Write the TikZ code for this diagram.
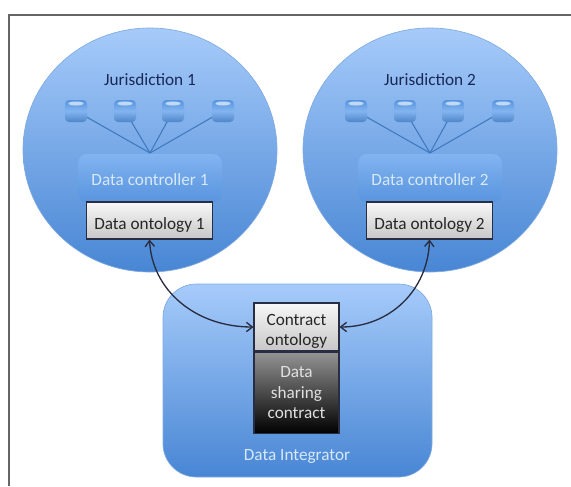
\documentclass[tikz,border=0pt]{standalone}
\usepackage{fontspec}
\setmainfont{Carlito}
\usetikzlibrary{arrows.meta,positioning,shapes.geometric}
\definecolor{bluetop}{RGB}{166,203,250}
\definecolor{bluebot}{RGB}{72,134,212}
\definecolor{disktop}{RGB}{190,218,246}
\definecolor{ctrltop}{RGB}{130,180,240}
\definecolor{ctrlbot}{RGB}{88,148,222}
\definecolor{ctrltext}{RGB}{215,232,250}
\definecolor{navytext}{RGB}{25,40,85}
\definecolor{boxline}{RGB}{40,45,65}
\newcommand{\labelfont}{\fontsize{12.9}{15.5}\selectfont}
\newcommand{\lowstrut}[1]{\rule{0pt}{#1}}
\tikzset{every picture/.style={line width=0.75pt},
  region/.style={draw=bluebot!70!white,line width=0.5pt,top color=bluetop,bottom color=bluebot},
  ctrlbox/.style={draw=none,rounded corners=7pt,minimum width=108pt,minimum height=36pt,top color=ctrltop,bottom color=ctrlbot,text=ctrltext,font=\labelfont},
  ontobox/.style={draw=boxline,line width=0.8pt,top color=white!97!black,bottom color=black!22,text=black!85,minimum height=27.75pt,inner sep=0pt,font=\labelfont},
  diskbox/.style={draw=none,rounded corners=3pt,minimum width=16.5pt,minimum height=16.5pt,top color=ctrlbot,bottom color=ctrlbot!90!black,middle color=ctrltop},
  spoke/.style={draw=bluebot!90!black,line width=0.8pt},
  link/.style={draw=boxline,line width=1pt,{Straight Barb[length=4.5pt,width=7pt]}-{Straight Barb[length=4.5pt,width=7pt]}}}

\begin{document}
\begin{tikzpicture}[x=0.75pt,y=0.75pt,yscale=-1,xscale=1]
\useasboundingbox (0,0) rectangle (571,486);

%Frame
\draw [draw=black!60,line width=1.5pt] (9,486) -- (9,14.5) -- (571,14.5);

%Jurisdictions
\foreach \j/\cx in {1/150,2/430}{
  \node [region,ellipse,minimum width=190.5pt,minimum height=183pt,inner sep=0pt] (jur\j) at (\cx,150) {};
  \node [text=navytext,font=\labelfont] (title\j) at (\cx,80) {Jurisdiction \j};
  \coordinate (hub\j) at (\cx,153);
  \foreach \d/\dx in {1/-74,2/-25,3/23,4/73}{
    \draw [spoke] (\cx+\dx,111) -- (hub\j);
    \node [diskbox] (disk\j\d) at (\cx+\dx,111) {};
    \fill [disktop] (\cx+\dx,103.5) ellipse (7.5 and 2);
  }
  \node [ctrlbox] (ctrl\j) at (\cx,178) {\lowstrut{12pt}Data controller \j};
  \node [ontobox,minimum width=95pt] (onto\j) at (\cx-0.5,220.5) {\lowstrut{15pt}Data ontology \j};
}

%Integrator
\node [region,rounded corners=25pt,minimum width=201.75pt,minimum height=144.75pt,inner sep=0pt] (integ) at (297.5,380.5) {};
\node [ontobox,minimum width=63.75pt,minimum height=36pt,align=center] (contract) at (296.5,327) {\lowstrut{15pt}Contract\\ontology};
\node [draw=boxline,line width=0.8pt,top color=black!42,bottom color=black,minimum width=63.75pt,minimum height=60.75pt,inner sep=0pt,align=center,text=white!88!black,font=\labelfont,below=0pt of contract] (sharing) {Data\\sharing\\contract};
\node [text=ctrltext,font=\labelfont] (integlabel) at (297,456) {Data Integrator};

%Links
\draw [link] (onto1.south) .. controls (152,290) and (195,327) .. (contract.west);
\draw [link] (onto2.south) .. controls (428,290) and (390,327) .. (contract.east);

\end{tikzpicture}
\end{document}
